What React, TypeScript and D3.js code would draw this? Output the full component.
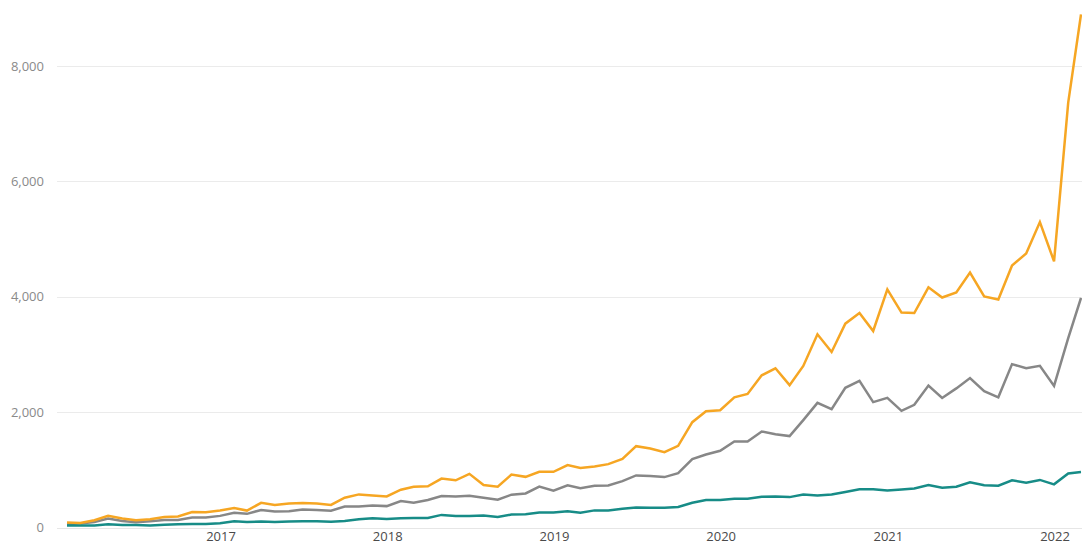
import React from "react";
import * as d3 from "d3";

const WIDTH = 1082;
const HEIGHT = 545;

// Monthly categories: Feb 2016 .. Mar 2022
const startMonth = new Date(2016, 1, 1);
const endMonth = new Date(2022, 3, 1);
const months: Date[] = d3.timeMonths(startMonth, endMonth);

const orangeSeries: number[] = [
  90, 80, 130, 205, 160, 130, 147, 187, 193, 273, 268,
  297, 343, 297, 430, 395, 420, 430, 420, 395, 519, 577, 560,
  542, 659, 711, 717, 851, 822, 933, 741, 711, 921, 881, 968,
  968, 1084, 1035, 1061, 1101, 1193, 1413, 1373, 1309, 1418, 1828, 2018,
  2035, 2260, 2317, 2641, 2762, 2470, 2803, 3351, 3045, 3536, 3720, 3408,
  4130, 3727, 3720, 4165, 3988, 4077, 4420, 4006, 3953, 4544, 4751, 5296,
  4615, 7367, 8893,
];

const graySeries: number[] = [
  65, 73, 100, 160, 118, 95, 113, 135, 135, 177, 177,
  205, 257, 240, 308, 280, 285, 315, 308, 295, 367, 367, 385,
  374, 461, 432, 479, 549, 542, 554, 519, 484, 572, 594, 711,
  641, 733, 686, 726, 733, 807, 906, 894, 877, 946, 1188, 1269,
  1332, 1494, 1494, 1667, 1620, 1587, 1864, 2163, 2055, 2424, 2545, 2176,
  2250, 2025, 2129, 2463, 2248, 2414, 2592, 2367, 2260, 2834, 2763, 2805,
  2456, 3284, 3982,
];

const tealSeries: number[] = [
  40, 38, 40, 60, 45, 45, 40, 52, 60, 65, 65,
  78, 113, 100, 106, 100, 106, 113, 113, 105, 117, 146, 163,
  152, 163, 169, 169, 222, 204, 204, 210, 187, 227, 233, 262,
  262, 287, 260, 300, 300, 329, 352, 346, 346, 358, 432, 478,
  478, 501, 501, 536, 542, 530, 574, 557, 574, 620, 666, 666,
  643, 660, 678, 738, 692, 710, 787, 734, 728, 822, 781, 828,
  751, 941, 964,
];

const yTicks: number[] = [0, 2000, 4000, 6000, 8000];
const yearTicks: Date[] = [2017, 2018, 2019, 2020, 2021, 2022].map((y) => new Date(y, 0, 1));

const seriesList = [
  { name: "gray", values: graySeries, color: "#878787" },
  { name: "teal", values: tealSeries, color: "#178C87" },
  { name: "orange", values: orangeSeries, color: "#F6A623" },
];

export default function App() {
  const x = d3
    .scaleTime()
    .domain([months[0], months[months.length - 1]])
    .range([67, 1081]);
  const y = d3.scaleLinear().domain([0, 9000]).range([527.7, 8.3]);

  const fmt = d3.format(",");

  return (
    <svg
      width={WIDTH}
      height={HEIGHT}
      style={{ position: "fixed", left: 0, top: 0, background: "#fff" }}
      fontFamily="'Open Sans', 'Noto Sans', sans-serif"
    >
      <rect x={0} y={0} width={WIDTH} height={HEIGHT} fill="#fff" />
      {yTicks.map((t) => (
        <g key={t}>
          <line
            x1={57}
            x2={WIDTH}
            y1={Math.round(y(t)) + 0.5}
            y2={Math.round(y(t)) + 0.5}
            stroke={t === 0 ? "#e6e6e6" : "#ebebeb"}
            strokeWidth={1}
          />
          <text
            x={44}
            y={y(t)}
            dy="0.35em"
            textAnchor="end"
            fontSize={13}
            fill="#8a8a8a"
          >
            {fmt(t)}
          </text>
        </g>
      ))}
      {yearTicks.map((d) => (
        <text
          key={d.getFullYear()}
          x={x(d) + 1}
          y={541}
          textAnchor="middle"
          fontSize={13}
          fill="#4a4a4a"
        >
          {d.getFullYear()}
        </text>
      ))}
      {seriesList.map((s) => {
        const line = d3
          .line<number>()
          .x((_, i) => x(months[i]))
          .y((v) => y(v));
        return (
          <path
            key={s.name}
            d={line(s.values) || ""}
            fill="none"
            stroke={s.color}
            strokeWidth={2.5}
            strokeLinejoin="miter"
          />
        );
      })}
    </svg>
  );
}
